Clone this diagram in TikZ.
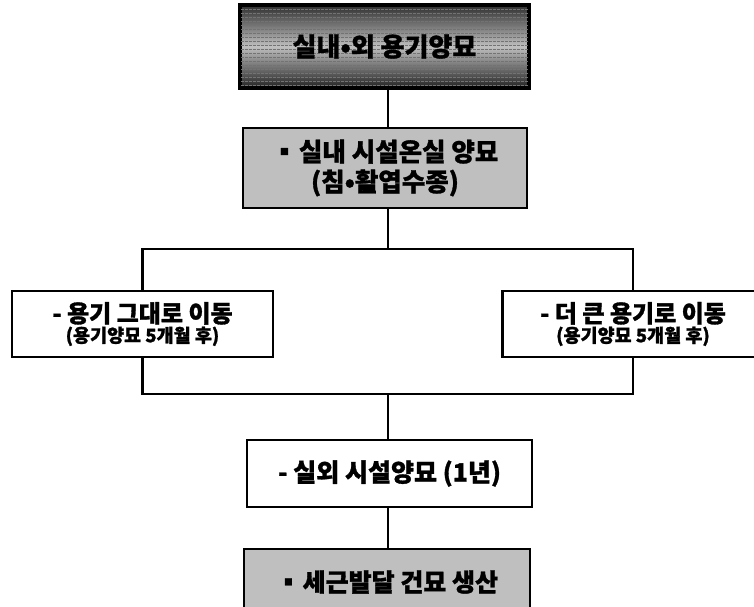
\documentclass[tikz,border=0pt]{standalone}
\usepackage{fontspec}
\newfontfamily\kr{Noto Sans CJK KR}[BoldFeatures={FakeBold=1.2}]
\usetikzlibrary{calc}
\tikzset{
  box/.style={draw=black, line width=2.6pt, minimum width=#1, inner sep=0pt, align=center, font=\kr\bfseries},
  grayfill/.style={fill=black!25},
  conn/.style={draw=black, line width=2.2pt},
}
\begin{document}
\begin{tikzpicture}[x=1pt,y=-1pt]
\useasboundingbox (0,0) rectangle (754,606);
\fill[white] (0,0) rectangle (754,606);
% top box with striped shading
\node[box=287pt, minimum height=81pt, top color=black!80, bottom color=black!85, middle color=black!25] (b1) at (384.5,46.5) {};
\begin{scope}
\clip (b1.south west) rectangle (b1.north east);
\foreach \y in {9,13,...,85} {
  \draw[black!55, line width=0.8pt, dash pattern=on 3pt off 1pt] (241,\y) -- (528,\y);
}
\end{scope}
\node[font=\kr\bfseries\fontsize{26}{28}\selectfont] (t1) at (b1.center) {실내•외 용기양묘};
\draw[black, line width=2.6pt] (b1.south west) rectangle (b1.north east);

\node[box=284pt, minimum height=80pt, grayfill, font=\kr\bfseries\fontsize{25.5}{30}\selectfont] (b2) at (385,168) {▪\hspace{-4pt} 실내 시설온실 양묘\\(침•활엽수종)};

\node[box=261pt, minimum height=66pt, fill=white] (b3l) at (142.5,324) {\fontsize{24}{25}\selectfont - 용기 그대로 이동\\[1pt]\fontsize{18.5}{20}\selectfont (용기양묘 5개월 후)};
\node[box=261pt, minimum height=66pt, fill=white] (b3r) at (633,324) {\fontsize{24}{25}\selectfont - 더 큰 용기로 이동\\[1pt]\fontsize{18.5}{20}\selectfont (용기양묘 5개월 후)};

\node[box=285pt, minimum height=67pt, fill=white, font=\kr\bfseries\fontsize{25}{28}\selectfont] (b4) at (389.5,473.5) {- 실외 시설양묘 (1년)};
\node[box=286pt, minimum height=66pt, grayfill, font=\kr\bfseries\fontsize{25}{28}\selectfont] (b5) at (387,582) {▪\hspace{-4pt} 세근발달 건묘 생산};

\coordinate (j1) at (388,249);
\coordinate (j2) at (388,394);

\draw[conn] (b1.south -| j1) -- (b2.north -| j1);
\draw[conn] (b2.south -| j1) -- (j1);
\draw[conn] (b3l.north) -- (b3l.north |- j1) -- (b3r.north |- j1) -- (b3r.north);
\draw[conn] (b3l.south) -- (b3l.south |- j2) -- (b3r.south |- j2) -- (b3r.south);
\draw[conn] (j2) -- (b4.north -| j2);
\draw[conn] (b4.south -| j2) -- (b5.north -| j2);
\end{tikzpicture}
\end{document}
